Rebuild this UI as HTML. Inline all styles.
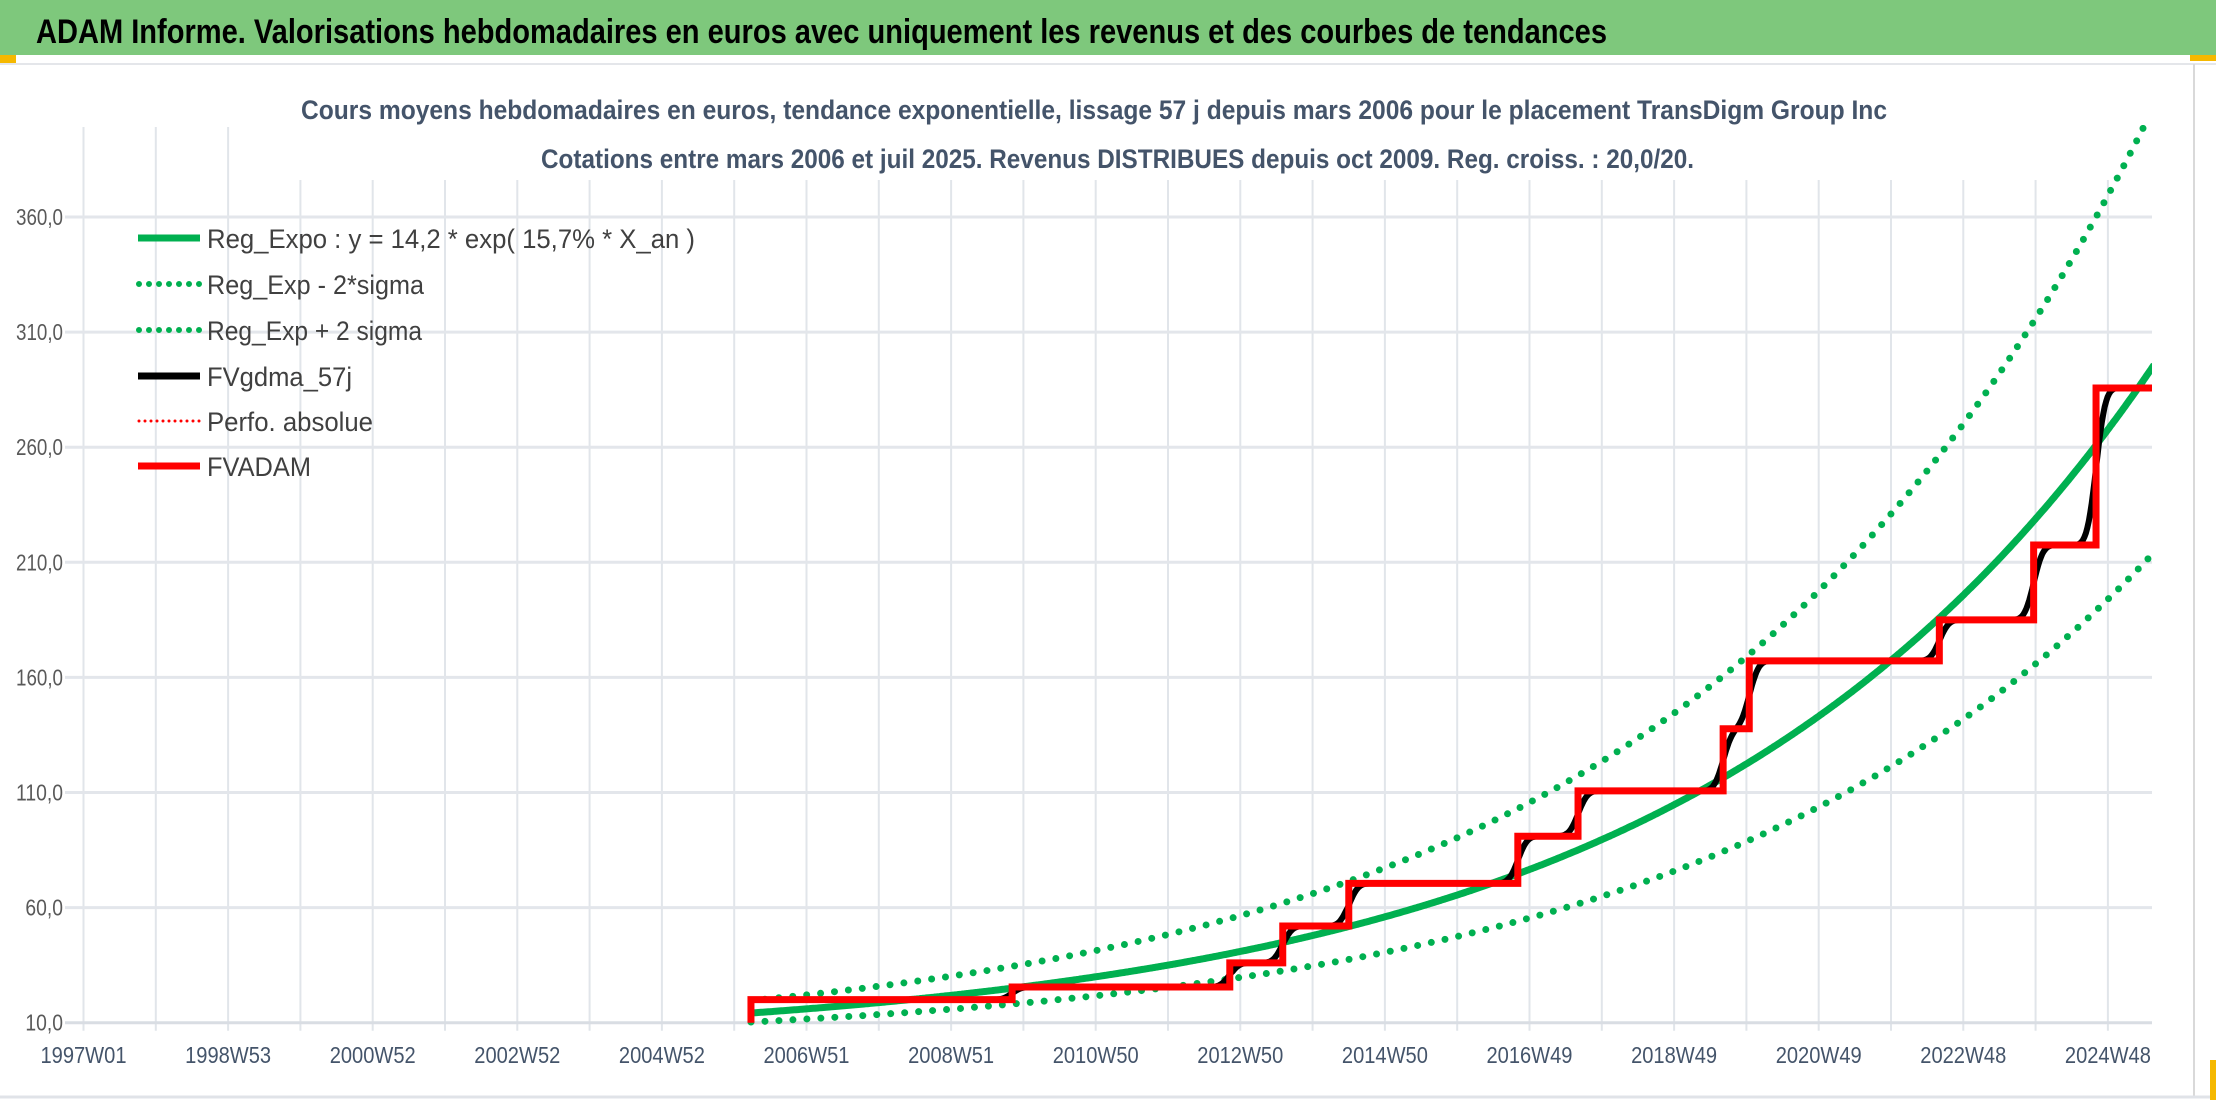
<!DOCTYPE html>
<html><head><meta charset="utf-8">
<style>
html,body{margin:0;padding:0;background:#fff;}
svg{display:block;}
text{font-family:"Liberation Sans",sans-serif;}
</style></head>
<body>
<svg id="chart" width="2216" height="1106" viewBox="0 0 2216 1106">
  <rect x="0" y="0" width="2216" height="1106" fill="#fff"/>
  <rect x="0" y="0" width="2216" height="55" fill="#7ec87c"/>
  <rect x="0" y="55" width="16" height="8" fill="#f5b800"/>
  <rect x="2190" y="55" width="26" height="6" fill="#f5b800"/>
  <line x1="0" y1="64" x2="2216" y2="64" stroke="#e4e6ea" stroke-width="2"/>
  <line x1="2194" y1="64" x2="2194" y2="1098" stroke="#d9d9d9" stroke-width="2"/>
  <line x1="0" y1="1097" x2="2216" y2="1097" stroke="#e0e3e8" stroke-width="3"/>
  <rect x="2210" y="1060" width="6" height="40" fill="#f5b800"/>
  <text x="36" y="43" font-size="34" font-weight="bold" fill="#000" textLength="1571" lengthAdjust="spacingAndGlyphs">ADAM Informe. Valorisations hebdomadaires en euros avec uniquement les revenus et des courbes de tendances</text>
  <g id="grid"></g>
  <g id="series"></g>
  <rect x="295" y="82" width="1600" height="98" fill="#fff"/>
  <text x="301" y="119" font-size="27" font-weight="bold" fill="#44546a" textLength="1586" lengthAdjust="spacingAndGlyphs">Cours moyens hebdomadaires en euros, tendance exponentielle, lissage 57 j depuis mars 2006 pour le placement TransDigm Group Inc</text>
  <text x="541" y="168" font-size="27" font-weight="bold" fill="#44546a" textLength="1153" lengthAdjust="spacingAndGlyphs">Cotations entre mars 2006 et juil 2025. Revenus DISTRIBUES depuis oct 2009. Reg. croiss. : 20,0/20.</text>
  <g id="legend">
    <g>
      <line x1="138" y1="238" x2="200" y2="238" stroke="#00b050" stroke-width="7"/>
      <text x="207" y="248" font-size="27" fill="#404040" textLength="488" lengthAdjust="spacingAndGlyphs">Reg_Expo : y = 14,2 * exp( 15,7% *  X_an )</text>
    </g>
    <g>
      <line x1="139" y1="284" x2="200" y2="284" stroke="#00b050" stroke-width="6" stroke-linecap="round" stroke-dasharray="0 10"/>
      <text x="207" y="294" font-size="27" fill="#404040" textLength="217" lengthAdjust="spacingAndGlyphs">Reg_Exp - 2*sigma</text>
    </g>
    <g>
      <line x1="139" y1="330" x2="200" y2="330" stroke="#00b050" stroke-width="6" stroke-linecap="round" stroke-dasharray="0 10"/>
      <text x="207" y="340" font-size="27" fill="#404040" textLength="215" lengthAdjust="spacingAndGlyphs">Reg_Exp + 2 sigma</text>
    </g>
    <g>
      <line x1="138" y1="376" x2="200" y2="376" stroke="#000" stroke-width="7"/>
      <text x="207" y="386" font-size="27" fill="#404040" textLength="145" lengthAdjust="spacingAndGlyphs">FVgdma_57j</text>
    </g>
    <g>
      <line x1="139" y1="421" x2="200" y2="421" stroke="#ff0000" stroke-width="3" stroke-linecap="round" stroke-dasharray="0 6"/>
      <text x="207" y="431" font-size="27" fill="#404040" textLength="166" lengthAdjust="spacingAndGlyphs">Perfo. absolue</text>
    </g>
    <g>
      <line x1="138" y1="466" x2="200" y2="466" stroke="#ff0000" stroke-width="7"/>
      <text x="207" y="476" font-size="27" fill="#404040" textLength="104" lengthAdjust="spacingAndGlyphs">FVADAM</text>
    </g>
  </g>
</svg>
<script>
// ---- data ----
const yTicks = [10, 60, 110, 160, 210, 260, 310, 360];
const xTickLabels = ["1997W01","1998W53","2000W52","2002W52","2004W52","2006W51","2008W51","2010W50","2012W50","2014W50","2016W49","2018W49","2020W49","2022W48","2024W48"];
const stepStarts = [2006.2, 2009.8, 2012.8, 2013.53, 2014.44, 2016.77, 2017.6, 2019.6, 2019.96, 2022.58, 2023.88, 2024.74];
const stepValues = [20.0, 25.5, 36.0, 52.0, 70.5, 91.0, 110.7, 137.7, 167.2, 185.0, 217.5, 285.7];
const seriesEnd = 2025.55;
const regA = [14.2];
const regRate = [0.157];
const sigmaFactor = [1.38];

// ---- axes ----
const NS = "http://www.w3.org/2000/svg";
const plotLeft = 65, plotRight = 2152, plotTop = 125, plotBottom = 1022.7;
function x(t){ return 83.5 + (t - 1997) * 72.55; }
function y(v){ return 1022.7 - (v - 10) * 2.302; }
function mk(tag, attrs, parent){
  const e = document.createElementNS(NS, tag);
  for (const k in attrs) e.setAttribute(k, attrs[k]);
  parent.appendChild(e);
  return e;
}
const grid = document.getElementById('grid');
const series = document.getElementById('series');
const gridStep = 52 / 52.18;
for (let k = 0; x(1997 + k * gridStep) <= plotRight; k++) {
  const gx = x(1997 + k * gridStep);
  const l = mk('line', {x1: gx, x2: gx, y1: gx < 290 ? 127 : 180, y2: plotBottom + 8, stroke: '#e1e5ea', 'stroke-width': 2}, grid);
  
  
  if (k % 2 === 0 && xTickLabels[k / 2]) {
    const t = mk('text', {x: gx, y: 1063, 'font-size': 23, fill: '#44546a', 'text-anchor': 'middle', textLength: 86, lengthAdjust: 'spacingAndGlyphs'}, grid);
    t.textContent = xTickLabels[k / 2];
    
    
  }
}
yTicks.forEach(v => {
  const gy = y(v);
  const l = mk('line', {x1: plotLeft, x2: plotRight, y1: gy, y2: gy, stroke: v === 10 ? '#d9dde3' : '#e3e6eb', 'stroke-width': 3}, grid);
  
  
  const label = v.toFixed(1).replace('.', ',');
  const t = mk('text', {x: 63, y: gy + 8, 'font-size': 23, fill: '#595959', 'text-anchor': 'end', textLength: label.length * 9.4, lengthAdjust: 'spacingAndGlyphs'}, grid);
  t.textContent = label;
  
  
});

// clip
const defs = mk('defs', {}, document.getElementById('chart'));
const cp = mk('clipPath', {id: 'plotclip'}, defs);
mk('rect', {x: plotLeft, y: plotTop, width: plotRight - plotLeft, height: plotBottom - plotTop + 4}, cp);
series.setAttribute('clip-path', 'url(#plotclip)');

// regression curves
const t0 = stepStarts[0];
function reg(t){ return regA[0] * Math.exp(regRate[0] * (t - t0)); }
function curvePath(f){
  let d = '';
  for (let t = t0; t <= seriesEnd + 1e-9; t += 0.02) d += (d ? 'L' : 'M') + x(t).toFixed(1) + ',' + y(f(t)).toFixed(1);
  return d;
}
const up = mk('path', {d: curvePath(t => reg(t) * sigmaFactor[0]), fill: 'none', stroke: '#00b050', 'stroke-width': 7, 'stroke-linecap': 'round', 'stroke-dasharray': '0 14'}, series);


const lo = mk('path', {d: curvePath(t => reg(t) / sigmaFactor[0]), fill: 'none', stroke: '#00b050', 'stroke-width': 7, 'stroke-linecap': 'round', 'stroke-dasharray': '0 14'}, series);


const mid = mk('path', {d: curvePath(reg), fill: 'none', stroke: '#00b050', 'stroke-width': 7}, series);



// step value lookup
function stepVal(t){
  let v = stepValues[0];
  for (let i = 0; i < stepStarts.length; i++) if (t >= stepStarts[i]) v = stepValues[i];
  return v;
}
// smoothed (57-day moving average, gaussian-weighted for S-shape)
const sig = 0.1;
function smooth(t){
  let s = 0, n = 0;
  for (let u = t - 3 * sig; u <= t + 3 * sig; u += 0.005) {
    const uu = Math.min(Math.max(u, t0), seriesEnd);
    const w = Math.exp(-0.5 * ((u - t) / sig) ** 2);
    s += w * stepVal(uu); n += w;
  }
  return s / n;
}
const blk = mk('path', {d: curvePath(smooth), fill: 'none', stroke: '#000', 'stroke-width': 6}, series);



// FVADAM step line
let d = 'M' + x(stepStarts[0]) + ',' + y(10);
for (let i = 0; i < stepStarts.length; i++) {
  d += 'L' + x(stepStarts[i]) + ',' + y(stepValues[i]);
  const tEnd = i + 1 < stepStarts.length ? stepStarts[i + 1] : seriesEnd;
  d += 'L' + x(tEnd) + ',' + y(stepValues[i]);
}
const red = mk('path', {d: d, fill: 'none', stroke: '#ff0000', 'stroke-width': 7, 'stroke-linejoin': 'miter'}, series);


</script>
</body></html>
